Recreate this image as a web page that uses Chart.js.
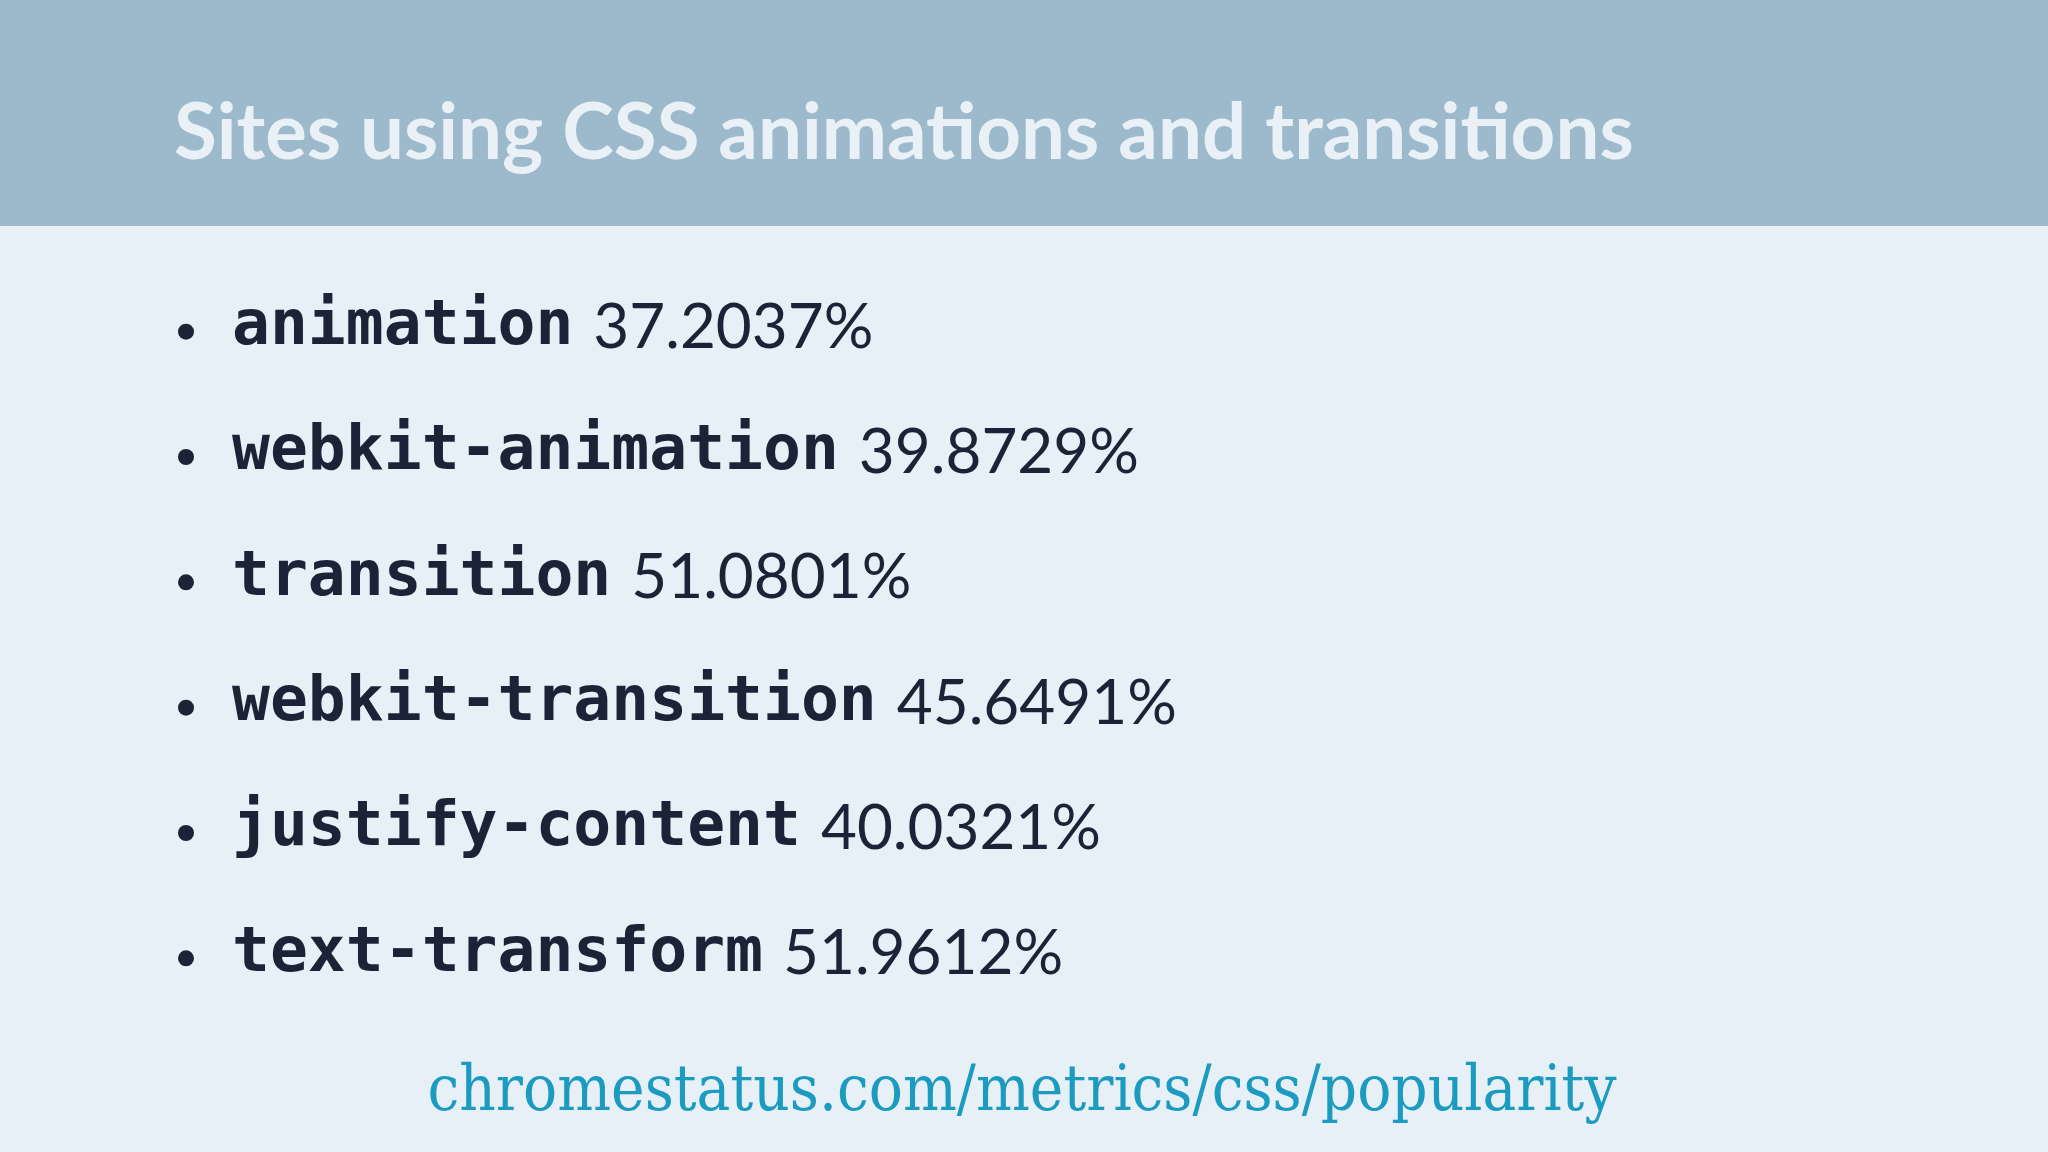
<!DOCTYPE html>
<html>
<head>
<meta charset="utf-8">
<script src="https://cdn.jsdelivr.net/npm/chart.js@4"></script>
<style>
  html, body { margin: 0; padding: 0; background: #e8f0f7; }
  canvas { display: block; }
</style>
</head>
<body>
<canvas id="slide" width="2048" height="1152"></canvas>
<script>
var title = "Sites using CSS animations and transitions";
var properties = ["animation", "webkit-animation", "transition", "webkit-transition", "justify-content", "text-transform"];
var percents = [37.2037, 39.8729, 51.0801, 45.6491, 40.0321, 51.9612];
var source = "chromestatus.com/metrics/css/popularity";

// draws the slide around the (hidden) bars, one row per category
var slidePlugin = {
  id: "slide",
  beforeDraw: function (chart) {
    var ctx = chart.ctx;
    ctx.save();
    ctx.fillStyle = "#e8f0f7";
    ctx.fillRect(0, 0, chart.width, chart.height);
    ctx.fillStyle = "#9dbacd";
    ctx.fillRect(0, 0, chart.width, 226);
    ctx.fillStyle = "#e9f0f6";
    ctx.font = "bold 78px Lato";
    ctx.textBaseline = "alphabetic";
    ctx.fillText(title, 174, 159);
    ctx.restore();
  },
  afterDraw: function (chart) {
    var ctx = chart.ctx;
    var y = chart.scales.y;
    ctx.save();
    ctx.textBaseline = "middle";
    ctx.fillStyle = "#1b2436";
    properties.forEach(function (p, i) {
      var py = y.getPixelForValue(i);
      ctx.beginPath();
      ctx.arc(186, py + 4, 8, 0, Math.PI * 2);
      ctx.fill();
      ctx.font = "bold 63px 'DejaVu Sans Mono'";
      ctx.fillText(p, 232, py);
      var w = ctx.measureText(p).width;
      ctx.font = "62px Lato";
      ctx.fillText(percents[i] + "%", 232 + w + 20, py);
    });
    ctx.fillStyle = "#1c9bc0";
    ctx.font = "64px 'DejaVu Serif'";
    ctx.textAlign = "center";
    ctx.textBaseline = "alphabetic";
    var tw = ctx.measureText(source).width;
    var sx = 1189 / tw;
    ctx.translate(1022, 1110);
    ctx.scale(sx, 1);
    ctx.fillText(source, 0, 0);
    ctx.restore();
  }
};

new Chart(document.getElementById("slide"), {
  type: "bar",
  data: {
    labels: properties,
    datasets: [{ data: percents, backgroundColor: "rgba(0,0,0,0)" }]
  },
  options: {
    indexAxis: "y",
    responsive: false,
    animation: false,
    devicePixelRatio: 1,
    layout: { padding: { top: 265, bottom: 135, left: 0, right: 0 } },
    scales: {
      x: { display: false, min: 0, max: 100 },
      y: { display: false }
    },
    plugins: { legend: { display: false }, tooltip: { enabled: false } }
  },
  plugins: [slidePlugin]
});
</script>
</body>
</html>
